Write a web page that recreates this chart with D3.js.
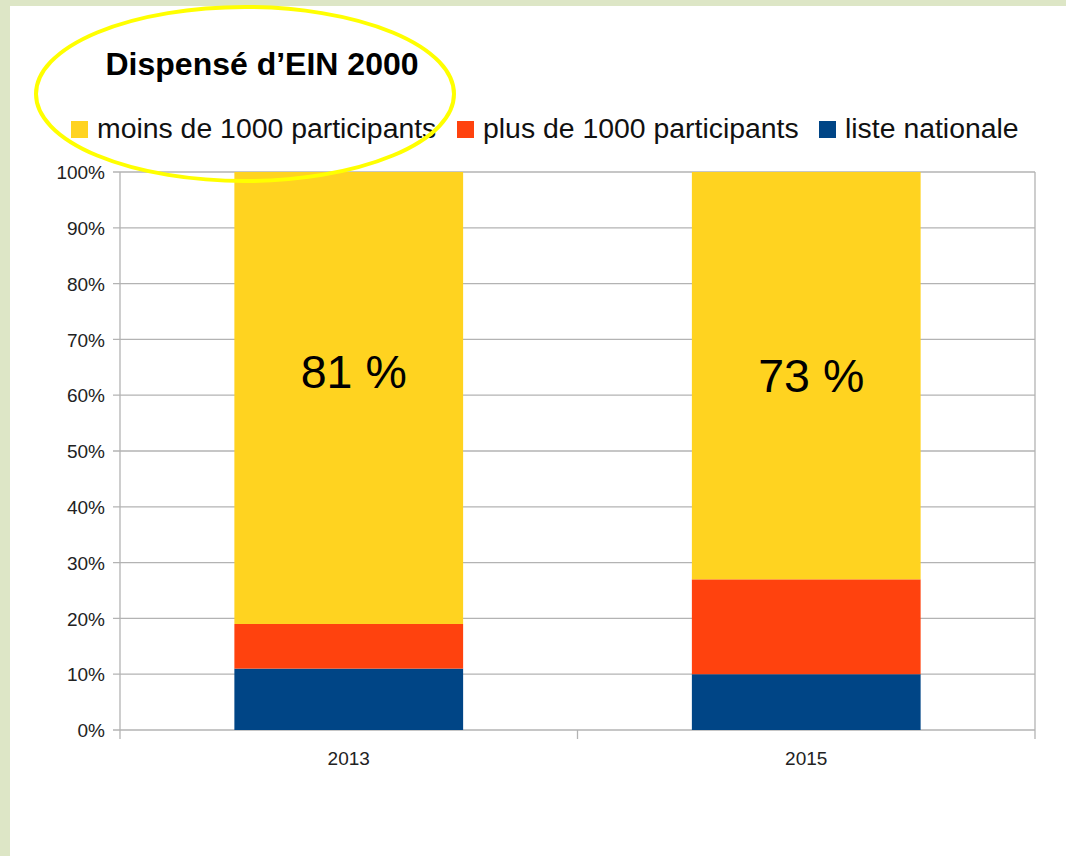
<!DOCTYPE html>
<html>
<head>
<meta charset="utf-8">
<script src="https://cdn.jsdelivr.net/npm/d3@7"></script>
<style>
  body { margin: 0; background: #dde6c6; }
  svg { display: block; font-family: "Liberation Sans", Arial, sans-serif; }
</style>
</head>
<body>
<div id="chart"></div>
<script>
var years = ["2013", "2015"];
var seriesNames = ["liste nationale", "plus de 1000 participants", "moins de 1000 participants"];
var listeNationale = [11, 10];
var plusDe1000 = [8, 17];
var moinsDe1000 = [81, 73];
var barLabels = ["81 %", "73 %"];
var yTicks = [0, 10, 20, 30, 40, 50, 60, 70, 80, 90, 100];
var colors = ["#004586", "#ff420e", "#ffd320"];

var width = 1066, height = 856;
var margin = { left: 120, top: 172, right: 31, bottom: 126 };

var svg = d3.select("#chart").append("svg")
    .attr("width", width)
    .attr("height", height);

// white panel
svg.append("rect")
    .attr("x", 10).attr("y", 6)
    .attr("width", width - 10).attr("height", height - 6)
    .attr("fill", "#fff");

var x = d3.scaleBand()
    .domain(years)
    .range([margin.left, width - margin.right])
    .paddingInner(0.5).paddingOuter(0.25);
var y = d3.scaleLinear()
    .domain([0, 100])
    .range([height - margin.bottom, margin.top]);

// grid
svg.append("g")
    .selectAll("line")
    .data(yTicks)
    .enter().append("line")
    .attr("x1", margin.left - 7)
    .attr("x2", width - margin.right)
    .attr("y1", d => y(d)).attr("y2", d => y(d))
    .attr("stroke", "#b3b3b3")
    .attr("stroke-width", 1.3);

// axis lines
svg.append("line")
    .attr("x1", margin.left).attr("x2", margin.left)
    .attr("y1", margin.top).attr("y2", y(0) + 9)
    .attr("stroke", "#b3b3b3").attr("stroke-width", 1.3);
svg.append("line")
    .attr("x1", width - margin.right).attr("x2", width - margin.right)
    .attr("y1", margin.top).attr("y2", y(0) + 9)
    .attr("stroke", "#b3b3b3").attr("stroke-width", 1.3);
var midX = (x("2013") + x.bandwidth() + x("2015")) / 2;
svg.append("line")
    .attr("x1", midX).attr("x2", midX)
    .attr("y1", y(0)).attr("y2", y(0) + 9)
    .attr("stroke", "#b3b3b3").attr("stroke-width", 1.3);

// y labels
svg.append("g")
    .selectAll("text")
    .data(yTicks)
    .enter().append("text")
    .attr("x", margin.left - 15)
    .attr("y", d => y(d))
    .attr("dy", "0.38em")
    .attr("text-anchor", "end")
    .attr("font-size", 19)
    .attr("fill", "#222")
    .text(d => d + "%");

// x labels
svg.append("g")
    .selectAll("text")
    .data(years)
    .enter().append("text")
    .attr("x", d => x(d) + x.bandwidth() / 2)
    .attr("y", y(0) + 35)
    .attr("text-anchor", "middle")
    .attr("font-size", 19)
    .attr("fill", "#222")
    .text(d => d);

// stacked bars
var rows = years.map((yr, i) => ({
    year: yr,
    "liste nationale": listeNationale[i],
    "plus de 1000 participants": plusDe1000[i],
    "moins de 1000 participants": moinsDe1000[i]
}));
var stack = d3.stack().keys(seriesNames)(rows);

svg.append("g")
    .selectAll("g")
    .data(stack)
    .enter().append("g")
    .attr("fill", (d, i) => colors[i])
    .selectAll("rect")
    .data(d => d)
    .enter().append("rect")
    .attr("x", d => x(d.data.year))
    .attr("width", x.bandwidth())
    .attr("y", d => y(d[1]))
    .attr("height", d => y(d[0]) - y(d[1]));

// big labels in yellow part
svg.append("g")
    .selectAll("text")
    .data(years)
    .enter().append("text")
    .attr("x", d => x(d) + x.bandwidth() / 2 + 5)
    .attr("y", (d, i) => [388, 392][i])
    .attr("text-anchor", "middle")
    .attr("font-size", 46.5)
    .attr("fill", "#000")
    .text((d, i) => barLabels[i]);

// title
svg.append("text")
    .attr("x", 262).attr("y", 75)
    .attr("text-anchor", "middle")
    .attr("font-size", 32)
    .attr("font-weight", "bold")
    .text("Dispensé d’EIN 2000");

// legend
var legend = [
    { name: "moins de 1000 participants", color: colors[2], x: 71 },
    { name: "plus de 1000 participants", color: colors[1], x: 457 },
    { name: "liste nationale", color: colors[0], x: 819 }
];
var lg = svg.append("g").selectAll("g").data(legend).enter().append("g");
lg.append("rect")
    .attr("x", d => d.x).attr("y", 121)
    .attr("width", 17).attr("height", 17)
    .attr("fill", d => d.color);
lg.append("text")
    .attr("x", d => d.x + 26).attr("y", 138)
    .attr("font-size", 28.4)
    .attr("fill", "#111")
    .text(d => d.name);

// yellow ellipse highlight
svg.append("ellipse")
    .attr("cx", 245).attr("cy", 94)
    .attr("rx", 209).attr("ry", 87)
    .attr("fill", "none")
    .attr("stroke", "#ffff00")
    .attr("stroke-width", 4);
</script>
</body>
</html>
